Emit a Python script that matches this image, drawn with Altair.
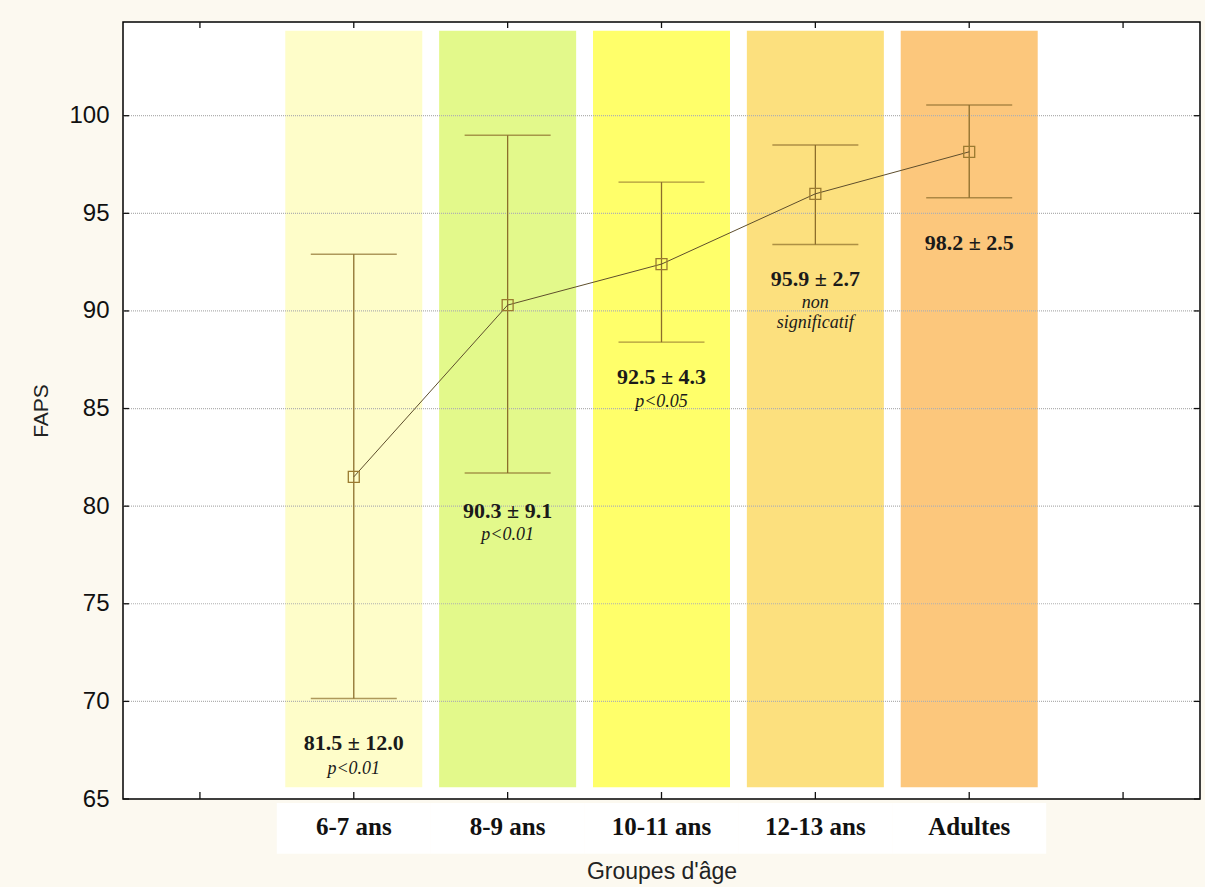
import altair as alt
import pandas as pd

# ---- data ----
groups = ["6-7 ans", "8-9 ans", "10-11 ans", "12-13 ans", "Adultes"]
means = [81.5, 90.3, 92.4, 96.0, 98.15]
lower = [70.15, 81.7, 88.4, 93.4, 95.8]
upper = [92.9, 99.0, 96.6, 98.5, 100.55]
band_colors = ["#FEFDC9", "#E3F98B", "#FFFF6A", "#FCE07E", "#FCC77C"]
stat_labels = ["81.5 ± 12.0", "90.3 ± 9.1", "92.5 ± 4.3", "95.9 ± 2.7", "98.2 ± 2.5"]
stat_label_y = [67.85, 79.75, 86.6, 91.65, 93.5]
p_labels = ["p<0.01", "p<0.01", "p<0.05", "non\nsignificatif", ""]
p_label_y = [66.55, 78.5, 85.35, 90.4, 90.0]
y_ticks = [65, 70, 75, 80, 85, 90, 95, 100]
x_domain = [" "] + groups + ["  "]

W, H = 1077, 777
Y_MIN, Y_MAX = 65, 104.8

df = pd.DataFrame({
    "group": groups, "mean": means, "lo": lower, "hi": upper,
    "color": band_colors, "stat": stat_labels, "stat_y": stat_label_y,
    "p": p_labels, "p_y": p_label_y,
})
ticks_df = pd.DataFrame({"y": y_ticks})
xt_df = pd.DataFrame({"group": x_domain})

xs = alt.Scale(domain=x_domain, paddingInner=0, paddingOuter=0)
ys = alt.Scale(domain=[Y_MIN, Y_MAX], nice=False, zero=False)

X = alt.X("group:N", scale=xs, sort=None,
          axis=alt.Axis(title="Groupes d'âge", labelAngle=0, ticks=False, domain=False,
                        zindex=1,
                        labelFont="Liberation Serif", labelFontWeight="bold",
                        labelFontSize=25, labelColor="#111", labelPadding=15,
                        titleFont="Liberation Sans", titleFontSize=23,
                        titleFontWeight="normal", titleColor="#222", titlePadding=21))
YAX = alt.Axis(title="FAPS", values=y_ticks, ticks=False, domain=False, grid=False,
               labelFont="Liberation Sans", labelFontSize=24, labelColor="#111",
               labelPadding=14, titleFont="Liberation Sans", titleFontSize=21,
               titleFontWeight="normal", titleColor="#222", titlePadding=17)


def Y(field):
    return alt.Y(field, scale=ys, axis=YAX)


base = alt.Chart(df)

patch = base.transform_calculate(w0="64.8", w1="62.2").mark_bar(
    size=154, color="white").encode(x=X, y=Y("w0:Q"), y2="w1:Q")

bands = base.transform_calculate(b0="65.6", b1="104.35").mark_bar(size=137).encode(
    x=X, y=Y("b0:Q"), y2="b1:Q",
    color=alt.Color("color:N", scale=None))

grid = alt.Chart(ticks_df).transform_filter("datum.y > 65").mark_rule(
    color="#b0b0b0", strokeDash=[1, 1], strokeWidth=1.2).encode(
    y=Y("y:Q"), x=alt.value(0), x2=alt.value(W))

err_col = "#8C6E2C"
errs = base.mark_rule(color=err_col, strokeWidth=1.3).encode(
    x=X, y=Y("lo:Q"), y2="hi:Q")
cap_lo = base.mark_tick(color=err_col, size=86, thickness=1.4).encode(
    x=X, y=Y("lo:Q"))
cap_hi = base.mark_tick(color=err_col, size=86, thickness=1.4).encode(
    x=X, y=Y("hi:Q"))

line = base.mark_line(color="#5E4E2C", strokeWidth=1).encode(x=X, y=Y("mean:Q"))
pts = base.mark_point(shape="square", size=120, filled=False, color="#9A7A30",
                      strokeWidth=1.3, opacity=1).encode(x=X, y=Y("mean:Q"))

stat_txt = base.mark_text(font="Liberation Serif", fontWeight="bold", fontSize=22,
                          color="#1a1a1a", baseline="middle").encode(
    x=X, y=Y("stat_y:Q"), text="stat:N")
p_txt = base.transform_filter("datum.p != ''").mark_text(
    font="Liberation Serif", fontStyle="italic", fontSize=18, color="#1a1a1a",
    baseline="top", lineBreak="\n", lineHeight=20, dy=-9).encode(
    x=X, y=Y("p_y:Q"), text="p:N")

# inward tick marks on all four sides
tick_col = "#111"
bt = alt.Chart(xt_df).mark_rule(color=tick_col, strokeWidth=1.3).encode(
    x=X, y=alt.value(H - 7), y2=alt.value(H))
tt = alt.Chart(xt_df).mark_rule(color=tick_col, strokeWidth=1.3).encode(
    x=X, y=alt.value(0), y2=alt.value(6))
lt = alt.Chart(ticks_df).mark_rule(color=tick_col, strokeWidth=1.3).encode(
    y=Y("y:Q"), x=alt.value(0), x2=alt.value(6))
rt = alt.Chart(ticks_df).mark_rule(color=tick_col, strokeWidth=1.3).encode(
    y=Y("y:Q"), x=alt.value(W - 6), x2=alt.value(W))

chart = alt.layer(
    patch, bands, grid, errs, cap_lo, cap_hi, line, pts, stat_txt, p_txt,
    bt, tt, lt, rt
).properties(
    width=W, height=H,
    autosize=alt.AutoSizeParams(type="none"),
    padding={"left": 123, "top": 22, "right": 5, "bottom": 88},
    background="#FCF9F0",
).configure_view(
    fill="white", stroke="black", strokeWidth=1.5
)

chart.save("out.html", embed_options={"renderer": "svg", "actions": False})
